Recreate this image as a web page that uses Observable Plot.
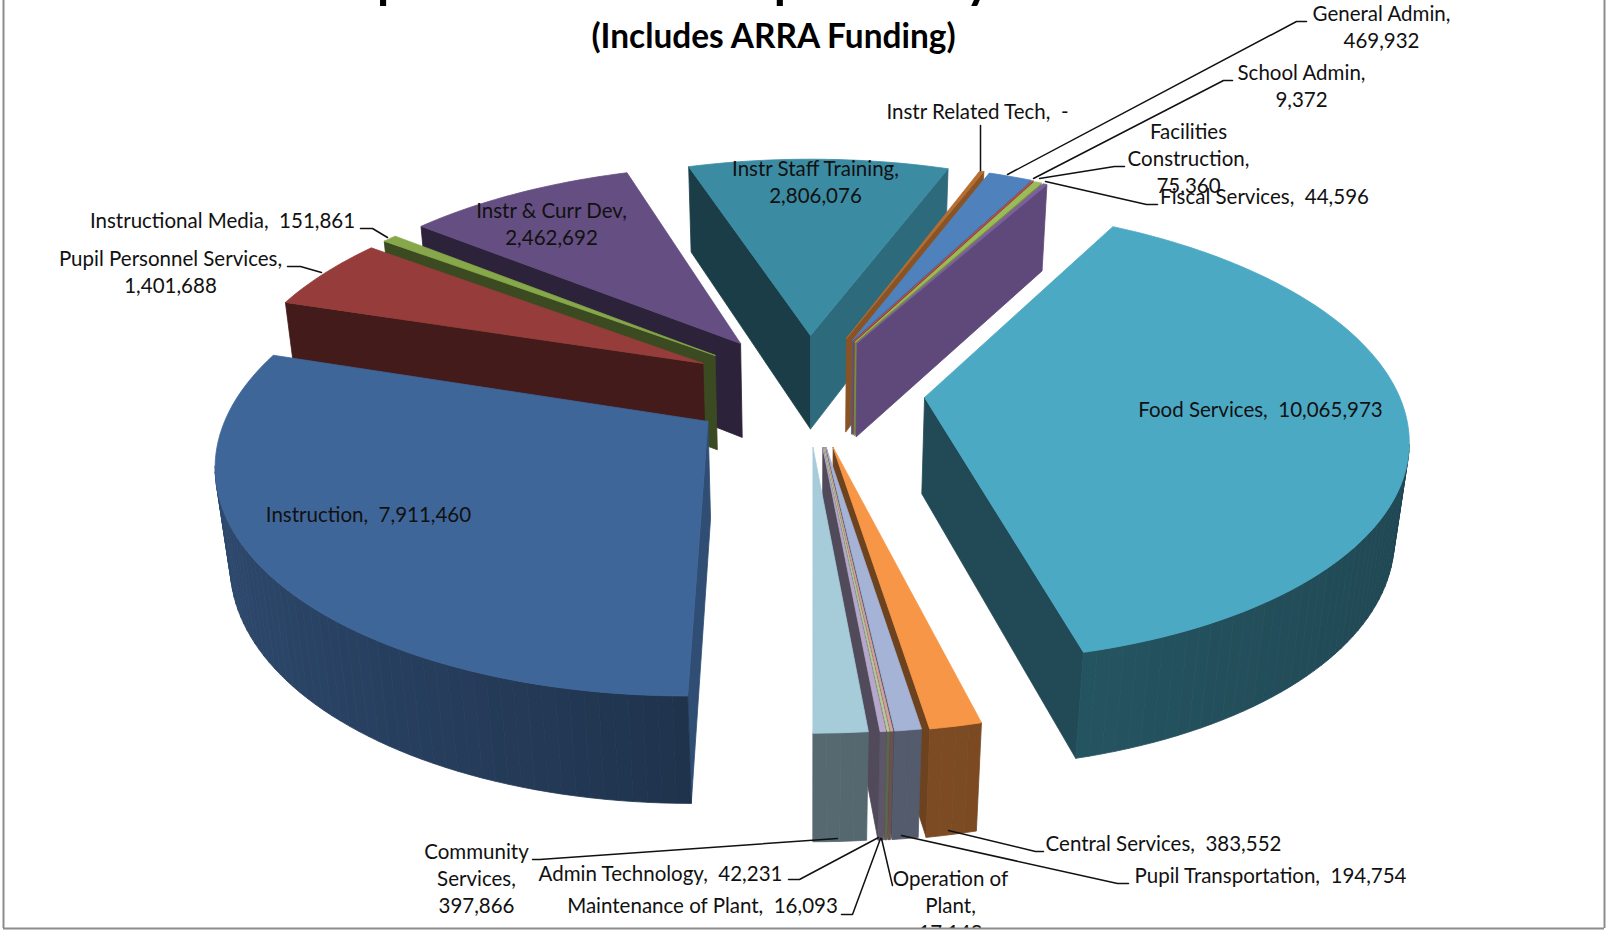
<!DOCTYPE html>
<html><head><meta charset="utf-8">
<style>html,body{margin:0;padding:0;background:#fff;overflow:hidden}</style>
<script src="https://cdn.jsdelivr.net/npm/d3@7"></script>
<script src="https://cdn.jsdelivr.net/npm/@observablehq/plot@0.6"></script>
</head><body><div id="chart"></div>
<script>
// ---------- data ----------
const categories = ["Food Services","Central Services","Pupil Transportation","Operation of Plant","Maintenance of Plant","Admin Technology","Community Services","Instruction","Pupil Personnel Services","Instructional Media","Instr & Curr Dev","Instr Staff Training","Instr Related Tech","General Admin","School Admin","Facilities Construction","Fiscal Services"];
const values = [10065973,383552,194754,17148,16093,42231,397866,7911460,1401688,151861,2462692,2806076,0,469932,9372,75360,44596];
const topColors = ["#4ba9c4","#f79646","#a5b4d6","#d3a19f","#b9c999","#b5a8cc","#a6cbd9","#3f6699","#963d3b","#87a84a","#654e81","#3b8ba3","#b66d31","#4f81bd","#c0504d","#9bbb59","#7d5fa0"];
// A "-" slice still shows as a thin strip in the picture.
const zeroSliver = 45000;

// ---------- 3-D pie model ----------
const startAngle = 29, R = 1;
const cam = {cx:810, cy:405, F:478, C:225, k:0.16, m:0.025, H:99};
const explode = {
  "Food Services":[.24,.036],"Central Services":[.046,-.181],"Pupil Transportation":[.032,-.181],
  "Operation of Plant":[.029,-.181],"Maintenance of Plant":[.027,-.181],"Admin Technology":[.025,-.181],
  "Community Services":[.005,-.181],"Instruction":[-.212,-.07],"Pupil Personnel Services":[-.232,.193],
  "Instructional Media":[-.207,.231],"Instr & Curr Dev":[-.153,.288],"Instr Staff Training":[0,.327],
  "Instr Related Tech":[.079,.313],"General Admin":[.092,.303],"School Admin":[.095,.3],
  "Facilities Construction":[.098,.295],"Fiscal Services":[.102,.29]
};
const paintOrder = ["Instr Staff Training","Instr Related Tech","General Admin","School Admin","Facilities Construction","Fiscal Services","Instr & Curr Dev","Instructional Media","Pupil Personnel Services","Instruction","Food Services","Central Services","Pupil Transportation","Operation of Plant","Maintenance of Plant","Admin Technology","Community Services"];

const drawn = values.map(v => v || zeroSliver);
const total = d3.sum(drawn);
const rad = d => d * Math.PI / 180;
function project([X, Y], z) {
  const w = 1 + cam.k * Y + cam.m * z;
  return [cam.cx + cam.F * X / w, cam.cy + (-cam.C * Y + cam.H * z) / w];
}
function shade(color, f) {
  const c = d3.rgb(color);
  return d3.rgb(c.r * f, c.g * f, c.b * f).formatHex();
}
function outerShade(a) {
  const s = Math.sin(rad(a));
  return s > 0 ? 0.52 - 0.1 * s : 0.5 + 0.22 * -s;
}
let acc = startAngle;
const wedges = new Map(categories.map((name, i) => {
  const a0 = acc, a1 = acc + drawn[i] / total * 360;
  acc = a1;
  return [name, {name, a0, a1, color: topColors[i], o: explode[name]}];
}));

const polys = [];
let pid = 0;
function addPoly(pts, color) {
  const id = pid++;
  [...pts, pts[0]].forEach(p => polys.push({id, x: p[0], y: p[1], color}));
}
const camPos = [0, -1 / cam.k];
for (const name of paintOrder) {
  const {a0, a1, color, o} = wedges.get(name);
  const on = a => [o[0] + R * Math.sin(rad(a)), o[1] + R * Math.cos(rad(a))];
  const faces = (n, p) => n[0] * (camPos[0] - p[0]) + n[1] * (camPos[1] - p[1]) > 0;
  // radial walls
  for (const [a, sign] of [[a0, -1], [a1, 1]]) {
    const n = [Math.sin(rad(a + sign * 90)), Math.cos(rad(a + sign * 90))];
    if (faces(n, o)) {
      const p = on(a);
      addPoly([project(o,0), project(p,0), project(p,1), project(o,1)], shade(color, n[0] < 0 ? 0.44 : 0.76));
    }
  }
  // outer wall, in narrow facets
  const n = Math.max(1, Math.ceil((a1 - a0) / 1.5));
  for (let i = 0; i < n; ++i) {
    const b0 = a0 + (a1 - a0) * i / n, b1 = a0 + (a1 - a0) * (i + 1) / n, mid = (b0 + b1) / 2;
    const nrm = [Math.sin(rad(mid)), Math.cos(rad(mid))];
    if (faces(nrm, on(mid)))
      addPoly([project(on(b0),0), project(on(b1),0), project(on(b1),1), project(on(b0),1)], shade(color, outerShade(mid)));
  }
  // top face
  const arc = d3.range(n + 1).map(i => project(on(a0 + (a1 - a0) * i / n), 0));
  addPoly([project(o,0), ...arc], color);
}

// ---------- labels ----------
const fmt = d3.format(",");
const labelFor = (name, sep, shown = name) => {
  const v = values[categories.indexOf(name)];
  return `${shown},${sep}${v ? fmt(v) : "-"}`;
};
const lineStep = 27;
const labelLayout = [
  ["General Admin","\n",1381,12],["School Admin","\n",1301,71],
  ["Facilities Construction","\n",1188,130,"Facilities\nConstruction"],
  ["Fiscal Services","  ",1264,195],["Instr Related Tech","  ",977,110],
  ["Instr Staff Training","\n",815,167],["Instr & Curr Dev","\n",551,209],
  ["Instructional Media","  ",222,219],["Pupil Personnel Services","\n",170,257],
  ["Food Services","  ",1260,408],["Instruction","  ",368,513],
  ["Central Services","  ",1163,842],["Pupil Transportation","  ",1270,874],
  ["Community Services","\n",476,850,"Community\nServices"],
  ["Admin Technology","  ",660,872],["Maintenance of Plant","  ",702,904],
  ["Operation of Plant","\n",950,877,"Operation of\nPlant"]
].map(([name, sep, x, y, shown]) => {
  const text = labelFor(name, sep, shown);
  // y is where the first line sits
  return {text, x, y: y + (text.split("\n").length - 1) * lineStep / 2};
});

const leaders = [
  [[1007,174],[1296,21],[1306,21]],[[1033,178],[1223,80],[1232,80]],
  [[1039,178],[1114,166],[1124,166]],[[1045,181],[1146,204],[1157,204]],
  [[980,125],[980,170]],[[360,228],[372,228],[387,237]],
  [[287,266],[300,266],[321,272]],[[948,830],[1035,851],[1043,851]],
  [[901,835],[1117,883],[1128,883]],[[837,838],[539,859],[532,859]],
  [[878,837],[799,879],[788,879]],[[880,838],[852,914],[841,914]],
  [[881,838],[892,885]]
].flatMap((pts, id) => pts.map(([x, y]) => ({id, x, y})));

const font = "Lato, Carlito, sans-serif";
const W = 1606, Hh = 931;
const labelSize = 20.5;
const chart = Plot.plot({
  width: W, height: Hh, margin: 0,
  x: {domain: [0, W], range: [0, W], axis: null},
  y: {domain: [0, Hh], range: [0, Hh], axis: null},
  color: {type: "identity"},
  style: {background: "#fff", fontFamily: font},
  marks: [
    Plot.line(polys, {x: "x", y: "y", z: "id", fill: "color", stroke: "color", strokeWidth: 0.8, curve: "linear"}),
    Plot.line(leaders, {x: "x", y: "y", z: "id", stroke: "#111", strokeWidth: 1.5, curve: "linear"}),
    Plot.text(labelLayout, {x: "x", y: "y", text: "text", fontSize: labelSize, lineHeight: lineStep / labelSize, lineAnchor: "middle", fill: "#111", textAnchor: "middle"}),
    Plot.text(["Special Revenue Expenses by Function"], {x: () => 773, y: () => -3, text: d => d, fontSize: 49.5, fontWeight: 700, lineAnchor: "bottom", fill: "#000", textAnchor: "middle"}),
    Plot.text(["(Includes ARRA Funding)"], {x: () => 773, y: () => 37, text: d => d, fontSize: 33.4, fontWeight: 700, lineAnchor: "middle", fill: "#000", textAnchor: "middle"}),
    Plot.rect([0], {x1: () => 0, x2: () => W, y1: () => 928, y2: () => 931, fill: "#fff"}),
    Plot.ruleX([3, 1604], {y1: 0, y2: 928, stroke: "#8c8c8c", strokeWidth: 2}),
    Plot.ruleY([928], {x1: 3, x2: 1604, stroke: "#8c8c8c", strokeWidth: 2})
  ]
});
document.getElementById("chart").append(chart);
</script></body></html>
